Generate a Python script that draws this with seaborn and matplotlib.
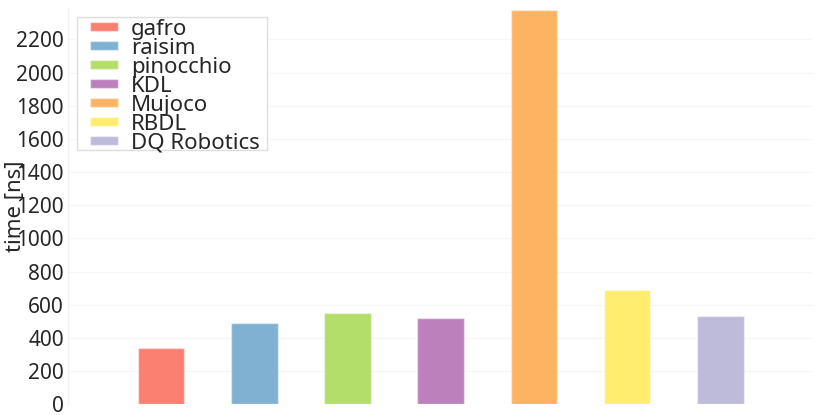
import matplotlib
matplotlib.use("Agg")
import matplotlib.pyplot as plt
from matplotlib.patches import Rectangle
import seaborn as sns
import pandas as pd

# timings (ns)
libraries = ["gafro", "raisim", "pinocchio", "KDL", "Mujoco", "RBDL", "DQ Robotics"]
times_ns = [337, 490, 550, 520, 2376, 689, 534]
colors = ["#fb8072", "#80b1d3", "#b3de69", "#bc80bd", "#fdb462", "#ffed6f", "#bebada"]
y_ticks = list(range(0, 2400, 200))

df = pd.DataFrame({"library": libraries, "time": times_ns})

sns.set_style("white")
plt.rcParams["font.family"] = ["Noto Sans", "DejaVu Sans"]

W, H = 830, 415
fig = plt.figure(figsize=(W / 100, H / 100), dpi=100)
ax = fig.add_axes([0.0819, 0.0258, 0.98 - 0.0819, 0.981 - 0.0258])

sns.barplot(data=df, x="library", y="time", hue="library", palette=colors,
            width=0.5, saturation=1, legend=True, ax=ax,
            edgecolor=(1, 1, 1, 0.45), linewidth=1)

ax.set_xlim(-1, 7)
ax.set_ylim(0, 2390)
ax.set_yticks(y_ticks)
ax.set_xticks([])
ax.set_xlabel("")
ax.set_ylabel("time [ns]", fontsize=16)
ax.yaxis.set_label_coords(-0.056, 0.5)
ax.tick_params(axis="y", labelsize=15, length=0, pad=3)

# very faint horizontal grid
ax.grid(axis="y", color="#f6f6f6", linewidth=1)
ax.set_axisbelow(True)
for side in ["top", "right", "bottom"]:
    ax.spines[side].set_visible(False)
ax.spines["left"].set_color("#f2f2f2")
ax.spines["left"].set_linewidth(1)

# legend without its own frame; a tighter box is drawn behind it
leg = ax.legend(loc="upper left", bbox_to_anchor=(90 / W, 1 - 19 / H),
                bbox_transform=fig.transFigure, borderaxespad=0, borderpad=0,
                fontsize=16, frameon=False, labelspacing=-0.09, handlelength=1.25,
                handleheight=0.25, handletextpad=0.6)
leg.set_zorder(5)

fig.canvas.draw()
bb = leg.get_window_extent()
x0, x1 = bb.x0 - 13, bb.x1 + 7
y0, y1 = bb.y0 + 4, bb.y1 + 1.5
frame = Rectangle((x0 / W, y0 / H), (x1 - x0) / W, (y1 - y0) / H,
                  transform=fig.transFigure, facecolor="white",
                  edgecolor="#dddddd", linewidth=1, zorder=4)
ax.add_artist(frame)
frame.set_clip_on(False)

fig.savefig("out.png", dpi=100)
